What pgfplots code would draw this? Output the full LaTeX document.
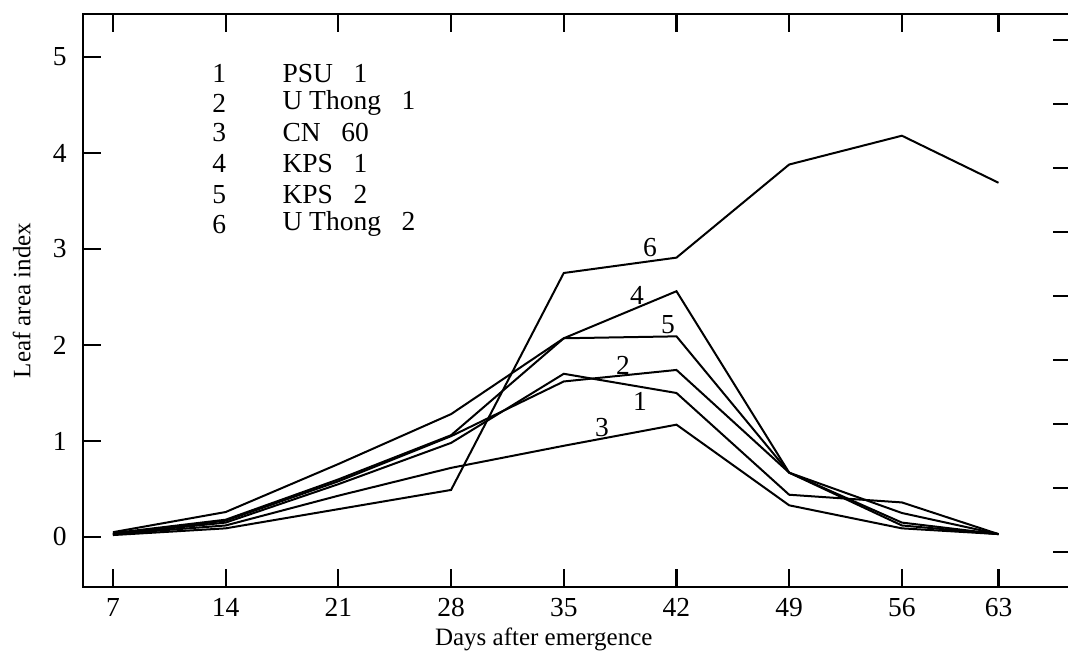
\documentclass[border=0pt]{standalone}
\usepackage{fontspec}
\setmainfont{Liberation Serif}
\usepackage{pgfplots}
\usepackage{pgfplotstable}
\pgfplotsset{compat=1.18}
\newcommand{\ff}{\fontsize{11}{13}\selectfont}
\newcommand{\gap}{\hspace{0.75em}}

% leaf area index, one column per cultivar (last sampling at 63 d is drawn at x=62, where its tick is)
\pgfplotstableread{
day  s1    s2    s3    s4    s5    s6
7    0.03  0.03  0.03  0.05  0.04  0.02
14   0.15  0.17  0.12  0.26  0.18  0.09
21   0.55  0.58  0.43  0.76  0.60  0.29
28   0.98  1.05  0.72  1.28  1.06  0.49
35   1.70  1.62  0.95  2.07  2.07  2.75
42   1.50  1.74  1.17  2.56  2.09  2.91
49   0.44  0.67  0.33  0.67  0.67  3.88
56   0.36  0.25  0.09  0.15  0.12  4.18
62   0.03  0.03  0.03  0.03  0.03  3.69
}\lai

\begin{document}
\begin{tikzpicture}
% right frame line falls just outside the page, as in the scan
\useasboundingbox (-33.2pt,-30pt) rectangle (394pt,234.8pt);
\begin{axis}[
  scale only axis, width=395.5pt, height=229.2pt,
  xmin=5.14, xmax=66.55, ymin=-0.521, ymax=5.448,
  axis line style={line width=1pt},
  xtick={7,14,21,28,35,42,49,56,62},
  xticklabels={7,14,21,28,35,42,49,56,63},
  ytick={0,1,2,3,4,5},
  major tick length=0pt,
  /pgf/number format/assume math mode=true,
  tick label style={font=\ff},
  yticklabel style={xshift=-3pt},
  xticklabel style={yshift=-1pt},
  xlabel={Days after emergence}, ylabel={Leaf area index},
  label style={font=\ff},
  every axis x label/.style={at={(axis description cs:0.466,-0.0908)}, anchor=center},
  every axis y label/.style={at={(axis description cs:-0.062,0.5)}, rotate=90, anchor=center},
  unbounded coords=jump,
  clip=false,
]
\addplot[black, line width=0.8pt] table[x=day, y=s1] {\lai};
\addplot[black, line width=0.8pt] table[x=day, y=s2] {\lai};
\addplot[black, line width=0.8pt] table[x=day, y=s3] {\lai};
\addplot[black, line width=0.8pt] table[x=day, y=s4] {\lai};
\addplot[black, line width=0.8pt] table[x=day, y=s5] {\lai};
\addplot[black, line width=0.8pt] table[x=day, y=s6] {\lai};

% inward tick marks of the frame, as short segments
\addplot[black, line width=0.9pt] coordinates {
  (7,-0.521) (7,-0.33) (7,nan) (14,-0.521) (14,-0.33) (14,nan)
  (21,-0.521) (21,-0.33) (21,nan) (28,-0.521) (28,-0.33) (28,nan)
  (35,-0.521) (35,-0.33) (35,nan) (42,-0.521) (42,-0.33) (42,nan)
  (49,-0.521) (49,-0.33) (49,nan) (56,-0.521) (56,-0.33) (56,nan)
  (62,-0.521) (62,-0.33)};
\addplot[black, line width=0.9pt] coordinates {
  (7,5.448) (7,5.26) (7,nan) (14,5.448) (14,5.26) (14,nan)
  (21,5.448) (21,5.26) (21,nan) (28,5.448) (28,5.26) (28,nan)
  (35,5.448) (35,5.26) (35,nan) (42,5.448) (42,5.26) (42,nan)
  (49,5.448) (49,5.26) (49,nan) (56,5.448) (56,5.26) (56,nan)
  (62,5.448) (62,5.26)};
\addplot[black, line width=0.9pt] coordinates {
  (5.14,0) (6.26,0) (nan,0) (5.14,1) (6.26,1) (nan,1)
  (5.14,2) (6.26,2) (nan,2) (5.14,3) (6.26,3) (nan,3)
  (5.14,4) (6.26,4) (nan,4) (5.14,5) (6.26,5)};
% second scale on the right
\addplot[black, line width=0.9pt] coordinates {
  (65.4,-0.16) (66.55,-0.16) (nan,0) (65.4,0.51) (66.55,0.51) (nan,0)
  (65.4,1.18) (66.55,1.18) (nan,0) (65.4,1.84) (66.55,1.84) (nan,0)
  (65.4,2.51) (66.55,2.51) (nan,0) (65.4,3.18) (66.55,3.18) (nan,0)
  (65.4,3.84) (66.55,3.84) (nan,0) (65.4,4.51) (66.55,4.51) (nan,0)
  (65.4,5.18) (66.55,5.18)};

\node[font=\ff] at (axis cs:40.35,3.02) {6};
\node[font=\ff] at (axis cs:39.55,2.52) {4};
\node[font=\ff] at (axis cs:41.47,2.21) {5};
\node[font=\ff] at (axis cs:38.68,1.79) {2};
\node[font=\ff] at (axis cs:39.73,1.41) {1};
\node[font=\ff] at (axis cs:37.37,1.14) {3};

\node[font=\ff, anchor=west, inner sep=0pt] at (axis cs:13.15,4.83) {1};
\node[font=\ff, anchor=west, inner sep=0pt] at (axis cs:13.15,4.52) {2};
\node[font=\ff, anchor=west, inner sep=0pt] at (axis cs:13.15,4.21) {3};
\node[font=\ff, anchor=west, inner sep=0pt] at (axis cs:13.15,3.89) {4};
\node[font=\ff, anchor=west, inner sep=0pt] at (axis cs:13.15,3.57) {5};
\node[font=\ff, anchor=west, inner sep=0pt] at (axis cs:13.15,3.26) {6};
\node[font=\ff, anchor=west, inner sep=0pt] at (axis cs:17.5,4.83) {PSU\gap 1};
\node[font=\ff, anchor=west, inner sep=0pt] at (axis cs:17.5,4.52) {U Thong\gap 1};
\node[font=\ff, anchor=west, inner sep=0pt] at (axis cs:17.5,4.21) {CN\gap 60};
\node[font=\ff, anchor=west, inner sep=0pt] at (axis cs:17.5,3.89) {KPS\gap 1};
\node[font=\ff, anchor=west, inner sep=0pt] at (axis cs:17.5,3.57) {KPS\gap 2};
\node[font=\ff, anchor=west, inner sep=0pt] at (axis cs:17.5,3.26) {U Thong\gap 2};
\end{axis}
\end{tikzpicture}
\end{document}
